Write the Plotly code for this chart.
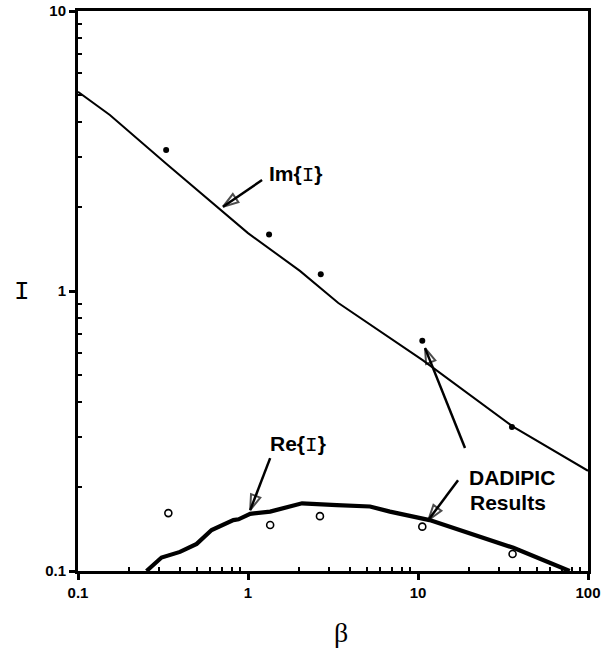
import math
import plotly.graph_objects as go

# Im{I}: model curve and simulation points
im_curve_beta = [0.1, 0.154, 0.328, 0.869, 1.0, 2.02, 3.4, 10.7, 36.4, 100]
im_curve_val = [5.15, 4.25, 2.86, 1.73, 1.61, 1.18, 0.906, 0.565, 0.327, 0.228]
im_sim_beta = [0.33, 1.33, 2.68, 10.6, 35.7]
im_sim_val = [3.19, 1.59, 1.147, 0.664, 0.327]

# Re{I}: model curve and simulation points
re_curve_beta = [0.253, 0.31, 0.398, 0.499, 0.611, 0.82, 0.88, 1.03, 1.35, 2.08,
                 3.33, 5.22, 6.84, 11.7, 36.4, 78]
re_curve_val = [0.100, 0.1117, 0.117, 0.125, 0.140, 0.152, 0.153, 0.160, 0.163,
                0.1745, 0.172, 0.170, 0.163, 0.152, 0.121, 0.100]
re_sim_beta = [0.34, 1.35, 2.65, 10.6, 36]
re_sim_val = [0.161, 0.146, 0.157, 0.144, 0.115]

# axis ticks
x_tick_vals = [0.1, 1, 10, 100]
x_tick_text = ["0.1", "1", "10", "100"]
y_tick_vals = [0.1, 1, 10]
y_tick_text = ["0.1", "1", "10"]
minor_vals = [m * 10 ** e for e in (-1, 0, 1) for m in range(2, 10)]

# callout arrows: (tail beta, tail I) -> (tip beta, tip I)
callouts = [
    ((1.21, 2.49), (0.713, 2.0)),
    ((18.9, 0.275), (11.0, 0.625)),
    ((17.2, 0.211), (11.5, 0.152)),
    ((1.35, 0.253), (1.03, 0.165)),
]

MONO_I = '<span style="font-family:Liberation Mono;font-weight:normal">I</span>'
labels = [
    (1.29, 2.6, "<b>Im{</b>" + MONO_I + "<b>}</b>"),
    (1.31, 0.282, "<b>Re{</b>" + MONO_I + "<b>}</b>"),
    (19.4, 0.216, "<b>DADIPIC</b>"),
    (19.6, 0.175, "<b>Results</b>"),
]

fig = go.Figure()

fig.add_trace(go.Scatter(x=im_curve_beta, y=im_curve_val, mode="lines",
                         line=dict(color="black", width=2)))
fig.add_trace(go.Scatter(x=re_curve_beta, y=re_curve_val, mode="lines",
                         line=dict(color="black", width=4.2)))
fig.add_trace(go.Scatter(x=im_sim_beta, y=im_sim_val, mode="markers",
                         marker=dict(symbol="circle", size=6, color="black")))
fig.add_trace(go.Scatter(x=re_sim_beta, y=re_sim_val, mode="markers",
                         marker=dict(symbol="circle-open", size=7, color="black",
                                     line=dict(width=1.6, color="black"))))

for (tx, ty), (hx, hy) in callouts:
    fig.add_trace(go.Scatter(
        x=[tx, hx], y=[ty, hy], mode="lines+markers",
        line=dict(color="black", width=2.5),
        marker=dict(symbol=["circle", "arrow-open"], size=[0, 16],
                    angleref="previous", color="black",
                    line=dict(width=2, color="black")),
    ))

for bx, iv, txt in labels:
    fig.add_annotation(x=math.log10(bx), y=math.log10(iv), xref="x", yref="y",
                       text=txt, showarrow=False, xanchor="left", yanchor="middle",
                       font=dict(family="Liberation Sans", size=21, color="black"))

# axis titles
fig.add_annotation(x=-0.11, y=0.498, xref="paper", yref="paper", text="I",
                   xanchor="center", yanchor="middle", showarrow=False,
                   font=dict(family="Liberation Mono", size=26, color="black"))
fig.add_annotation(x=0.516, y=-0.11, xref="paper", yref="paper", text="β",
                   xanchor="center", yanchor="middle", showarrow=False,
                   font=dict(family="Liberation Serif", size=28, color="black"))

axis_common = dict(
    showgrid=False, zeroline=False, automargin=False,
    showline=True, linecolor="black", linewidth=3, mirror=True,
    ticks="outside", ticklen=6, tickwidth=2.5, tickcolor="black",
    tickfont=dict(family="Liberation Sans", size=15, color="black", weight="bold"),
    minor=dict(tickvals=minor_vals, ticks="inside", ticklen=4, tickwidth=1.5,
               tickcolor="black", showgrid=False),
)

fig.update_xaxes(type="log", range=[-1, 2], tickvals=x_tick_vals, ticktext=x_tick_text,
                 **axis_common)
fig.update_yaxes(type="log", range=[-1, 1], tickvals=y_tick_vals, ticktext=y_tick_text,
                 **axis_common)

fig.update_layout(
    width=612, height=653,
    margin=dict(l=78, r=24, t=11, b=82),
    paper_bgcolor="white", plot_bgcolor="white",
    showlegend=False,
)

fig.write_html("out.html")
